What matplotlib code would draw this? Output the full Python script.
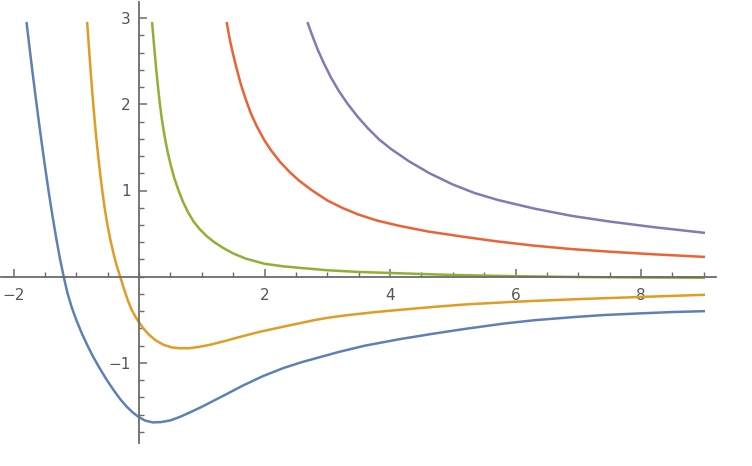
import matplotlib
matplotlib.use('Agg')
import matplotlib.pyplot as plt
from matplotlib.ticker import FixedLocator

# Values, one curve per colour.
blue_x = [-1.79, -1.75, -1.70, -1.65, -1.60, -1.55, -1.50, -1.44, -1.38, -1.32,
          -1.26, -1.20, -1.14, -1.07, -1.00, -0.91, -0.82, -0.73, -0.62, -0.52,
          -0.41, -0.30, -0.20, -0.10, 0.00, 0.10, 0.22, 0.35, 0.50, 0.65, 0.81,
          1.00, 1.20, 1.40, 1.65, 1.97, 2.30, 2.60, 2.90, 3.20, 3.60, 4.15, 4.70,
          5.20, 5.80, 6.30, 6.90, 7.40, 8.00, 8.50, 9.00]
blue_y = [2.94, 2.69, 2.39, 2.10, 1.82, 1.55, 1.29, 0.99, 0.71, 0.45,
          0.21, 0.00, -0.19, -0.36, -0.50, -0.66, -0.80, -0.93, -1.07, -1.19,
          -1.31, -1.42, -1.505, -1.575, -1.63, -1.67, -1.69, -1.687, -1.667, -1.627, -1.575,
          -1.51, -1.435, -1.36, -1.265, -1.155, -1.06, -0.99, -0.93, -0.87, -0.80, -0.725, -0.66,
          -0.605, -0.545, -0.505, -0.47, -0.445, -0.425, -0.41, -0.40]

orange_x = [-0.825, -0.80, -0.775, -0.75, -0.725, -0.70, -0.67, -0.64, -0.61, -0.58,
            -0.55, -0.51, -0.46, -0.41, -0.36, -0.30, -0.24, -0.18, -0.12, -0.06,
            0.00, 0.08, 0.17, 0.27, 0.39, 0.52, 0.65, 0.80, 0.95, 1.13, 1.35, 1.60,
            1.92, 2.30, 2.82, 3.05, 3.30, 3.80, 4.15, 4.70, 5.20, 6.00, 7.00, 8.00, 9.00]
orange_y = [2.94, 2.68, 2.43, 2.19, 1.97, 1.76, 1.53, 1.33, 1.14, 0.97,
            0.81, 0.63, 0.44, 0.28, 0.14, 0.00, -0.14, -0.27, -0.38, -0.46,
            -0.53, -0.61, -0.68, -0.74, -0.79, -0.82, -0.83, -0.83, -0.815, -0.79, -0.75, -0.70,
            -0.64, -0.58, -0.50, -0.472, -0.448, -0.408, -0.385, -0.35, -0.322, -0.29, -0.26, -0.235, -0.21]

green_x = [0.21, 0.24, 0.27, 0.30, 0.33, 0.36, 0.40, 0.45, 0.50, 0.56, 0.63, 0.70,
           0.78, 0.87, 0.97, 1.08, 1.20, 1.35, 1.50, 1.70, 2.00, 2.30, 2.60, 3.00,
           3.50, 4.00, 5.00, 6.00, 7.00, 8.00, 9.00]
green_y = [2.94, 2.68, 2.44, 2.22, 2.02, 1.85, 1.66, 1.47, 1.31, 1.15, 1.00, 0.87,
           0.75, 0.64, 0.55, 0.47, 0.40, 0.33, 0.27, 0.21, 0.15, 0.12, 0.10, 0.075,
           0.055, 0.043, 0.02, 0.006, -0.004, -0.009, -0.012]

red_x = [1.40, 1.45, 1.50, 1.55, 1.62, 1.70, 1.78, 1.88, 2.00, 2.10, 2.25, 2.40,
         2.55, 2.75, 3.00, 3.25, 3.50, 3.80, 4.15, 4.60, 5.20, 5.70, 6.30, 6.90,
         7.50, 8.20, 9.00]
red_y = [2.94, 2.74, 2.58, 2.43, 2.24, 2.06, 1.90, 1.74, 1.58, 1.47, 1.33, 1.215,
         1.115, 1.005, 0.885, 0.795, 0.72, 0.65, 0.59, 0.525, 0.46, 0.41, 0.36, 0.32,
         0.29, 0.26, 0.23]

purple_x = [2.69, 2.76, 2.85, 2.95, 3.06, 3.18, 3.32, 3.48, 3.65, 3.83, 4.02, 4.30,
            4.63, 5.00, 5.35, 5.72, 6.30, 6.90, 7.50, 8.20, 9.00]
purple_y = [2.94, 2.80, 2.63, 2.47, 2.31, 2.16, 2.01, 1.86, 1.72, 1.59, 1.48, 1.34,
            1.20, 1.07, 0.97, 0.89, 0.79, 0.705, 0.64, 0.575, 0.51]

x_labels = [-2, 2, 4, 6, 8]
y_labels = [-1, 1, 2, 3]

fig = plt.figure(figsize=(7.52, 4.66), dpi=100)
ax = fig.add_axes([0, 0, 1, 1])
ax.patch.set_alpha(0)

# Same colours Mathematica uses for its default plot styles
ax.plot(blue_x, blue_y, color='#5E81B5', lw=1.8, solid_joinstyle='round')
ax.plot(orange_x, orange_y, color='#E19C24', lw=1.8, solid_joinstyle='round')
ax.plot(green_x, green_y, color='#8FB032', lw=1.8, solid_joinstyle='round')
ax.plot(red_x, red_y, color='#EB6235', lw=1.8, solid_joinstyle='round')
ax.plot(purple_x, purple_y, color='#8778B3', lw=1.8, solid_joinstyle='round')

# pixel mapping: x=0 at col 139, 62.75 px/unit; y=0 at row 276.7, 86.2 px/unit
ax.set_xlim(-139 / 62.75, (752 - 139) / 62.75)
ax.set_ylim(-(466 - 276.7) / 86.2, 276.7 / 86.2)

axis_col = '#6b6b6b'
for side in ['top', 'right']:
    ax.spines[side].set_visible(False)
ax.spines['left'].set_position(('data', 0))
ax.spines['bottom'].set_position(('data', 0))
ax.spines['bottom'].set_bounds(-2.2, 9.2)
ax.spines['left'].set_bounds(-1.93, 3.19)
for side in ['left', 'bottom']:
    ax.spines[side].set_color(axis_col)
    ax.spines[side].set_linewidth(1.3)

ax.xaxis.set_major_locator(FixedLocator(x_labels))
ax.yaxis.set_major_locator(FixedLocator(y_labels))
ax.xaxis.set_minor_locator(FixedLocator([v * 0.5 for v in range(-4, 19)]))
ax.yaxis.set_minor_locator(FixedLocator([v * 0.2 for v in range(-9, 16)]))
ax.set_xticklabels([str(v) if v >= 0 else '\u2212' + str(-v) for v in x_labels])
ax.set_yticklabels([str(v) if v >= 0 else '\u2212' + str(-v) for v in y_labels])

ax.tick_params(which='major', direction='in', length=6, width=1.1, color=axis_col,
               labelsize=11, labelcolor='#555555')
ax.tick_params(which='minor', direction='in', length=3.5, width=1.0, color=axis_col)
ax.tick_params(axis='x', which='major', pad=8)
ax.tick_params(axis='y', which='major', pad=6)

fig.savefig('out.png', dpi=100)
